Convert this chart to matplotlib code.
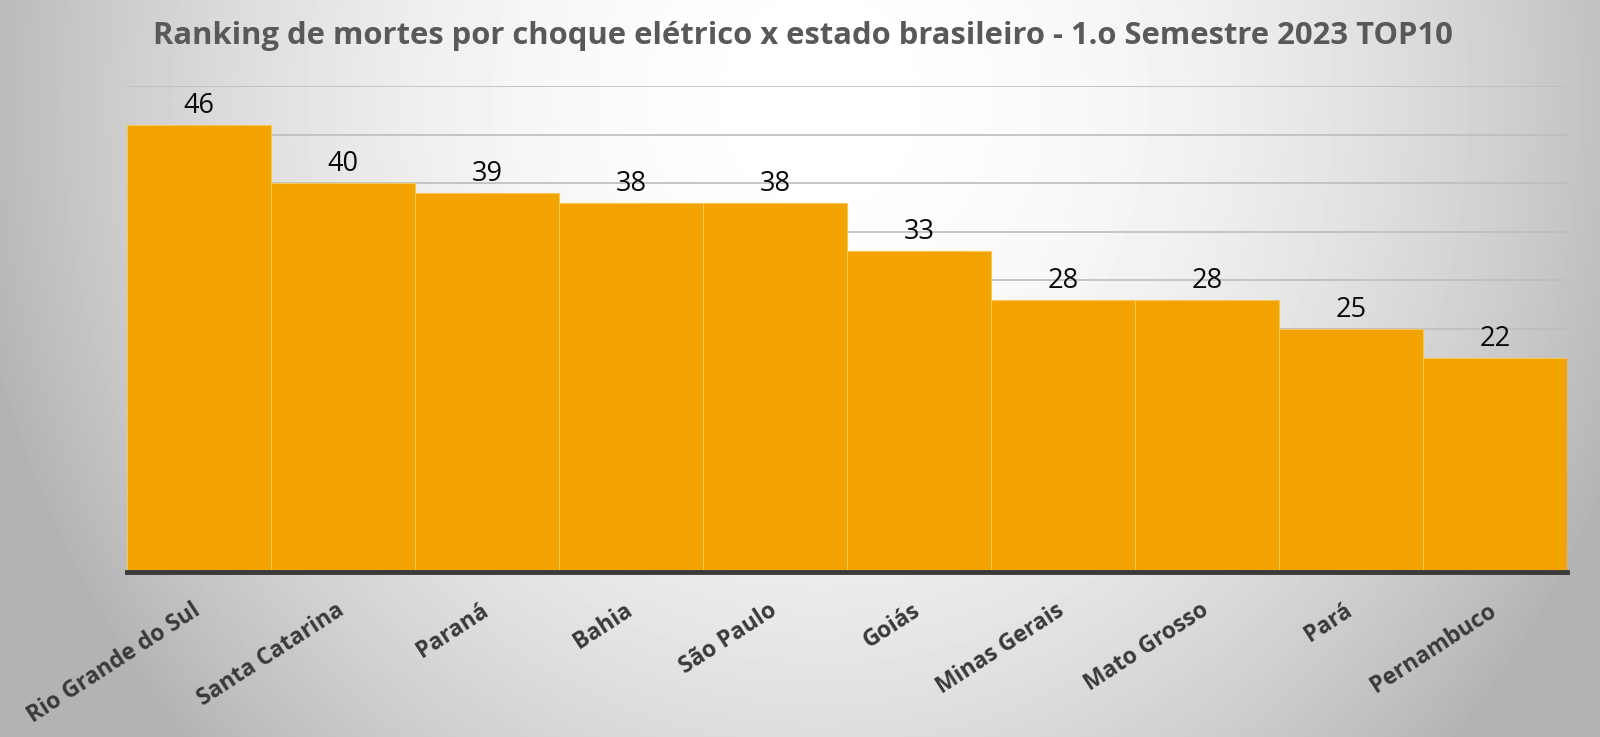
import numpy as np
import matplotlib
matplotlib.use("Agg")
import matplotlib.pyplot as plt

estados = ["Rio Grande do Sul", "Santa Catarina", "Paraná", "Bahia", "São Paulo",
           "Goiás", "Minas Gerais", "Mato Grosso", "Pará", "Pernambuco"]
mortes = [46, 40, 39, 38, 38, 33, 28, 28, 25, 22]
titulo = "Ranking de mortes por choque elétrico x estado brasileiro - 1.o Semestre 2023 TOP10"

plt.rcParams["font.family"] = ["Open Sans", "DejaVu Sans"]

fig = plt.figure(figsize=(16, 7.37), dpi=100)

# radial grey background, white near the top centre
bg = fig.add_axes([0, 0, 1, 1], zorder=-10)
yy, xx = np.mgrid[0:737, 0:1600]
r2 = ((xx - 820) / 1000.0) ** 2 + ((yy - 100) / 1100.0) ** 2
shade = np.clip(1.0 - 0.40 * r2, 0.70, 1.0)
bg.imshow(shade, cmap="gray", vmin=0, vmax=1, aspect="auto")
bg.axis("off")

ax = fig.add_axes([127 / 1600, 1 - 572 / 737, 1440 / 1600, 486 / 737])
ax.patch.set_alpha(0)

x = np.arange(len(estados))
ax.bar(x, mortes, width=1.0, color="#F2A300", edgecolor="#F7C65A",
       linewidth=0.8, zorder=3)
ax.set_xlim(-0.5, len(estados) - 0.5)
ax.set_ylim(0, 50)
ax.set_yticks(np.arange(5, 51, 5))
ax.yaxis.grid(True, color="#BDBDBD", linewidth=1.2, zorder=0)
ax.tick_params(axis="y", left=False, labelleft=False)
ax.tick_params(axis="x", bottom=False, labelbottom=False)
for s in ["top", "right", "left"]:
    ax.spines[s].set_visible(False)
ax.spines["bottom"].set_color("#3A3A3A")
ax.spines["bottom"].set_linewidth(3.5)
ax.spines["bottom"].set_zorder(5)

for xi, v in zip(x, mortes):
    ax.text(xi, v + 0.5, str(v), ha="center", va="bottom", fontsize=19.5,
            color="#0A0A0A", zorder=6)

# rotated state names, right end under the bar centre
for xi, nome in zip(x, estados):
    ax.annotate(nome, xy=(xi, 0), xycoords="data", xytext=(2, -30),
                textcoords="offset points", rotation=33, ha="right", va="baseline",
                rotation_mode="anchor", fontsize=16.5, fontweight="bold",
                color="#3A3A3A")

fig.text(803 / 1600, 1 - 36 / 737, titulo, ha="center", va="center", fontsize=22.3,
         fontweight="bold", color="#595959")

fig.savefig("out.png", dpi=100)
